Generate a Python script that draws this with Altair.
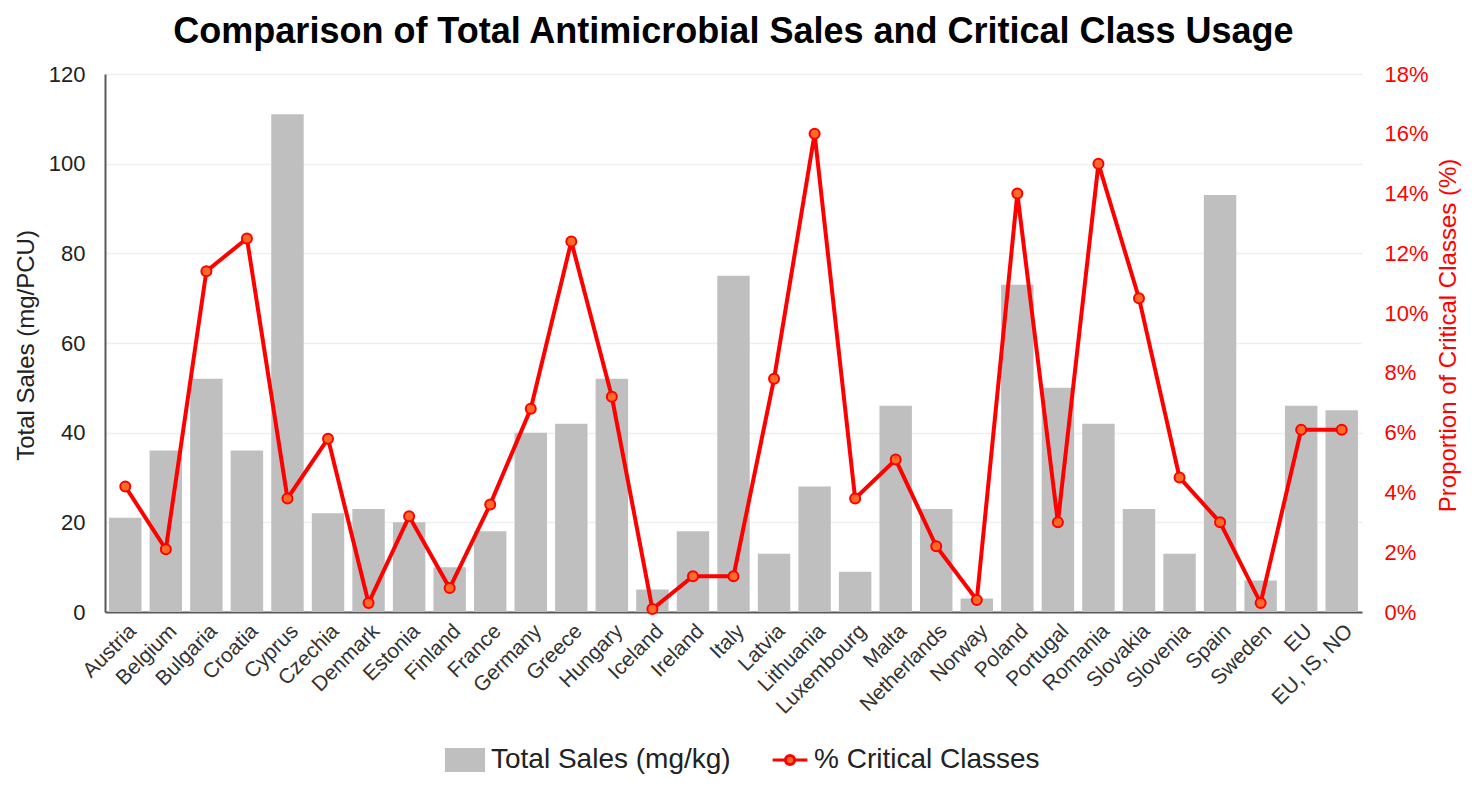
import altair as alt
import pandas as pd

countries = ["Austria", "Belgium", "Bulgaria", "Croatia", "Cyprus", "Czechia", "Denmark",
             "Estonia", "Finland", "France", "Germany", "Greece", "Hungary", "Iceland",
             "Ireland", "Italy", "Latvia", "Lithuania", "Luxembourg", "Malta", "Netherlands",
             "Norway", "Poland", "Portugal", "Romania", "Slovakia", "Slovenia", "Spain",
             "Sweden", "EU", "EU, IS, NO"]
total_sales = [21, 36, 52, 36, 111, 22, 23, 20, 10, 18, 40, 42, 52, 5, 18, 75, 13, 28, 9, 46,
               23, 3, 73, 50, 42, 23, 13, 93, 7, 46, 45]
critical_pct = [4.2, 2.1, 11.4, 12.5, 3.8, 5.8, 0.3, 3.2, 0.8, 3.6, 6.8, 12.4, 7.2, 0.1, 1.2,
                1.2, 7.8, 16.0, 3.8, 5.1, 2.2, 0.4, 14.0, 3.0, 15.0, 10.5, 4.5, 3.0, 0.3, 6.1, 6.1]
left_ticks = [0, 20, 40, 60, 80, 100, 120]
right_ticks = [0, 2, 4, 6, 8, 10, 12, 14, 16, 18]

df = pd.DataFrame({"country": countries, "sales": total_sales, "crit": critical_pct})

FONT = "Liberation Sans"
RED = "#FF0000"
ORANGE = "#FF6A26"
GRAY = "#BFBFBF"

x = alt.X("country:N", sort=countries,
          scale=alt.Scale(paddingInner=0.2, paddingOuter=0.1),
          axis=alt.Axis(title=None, labelAngle=-45, labelFontSize=21, labelColor="#333333",
                        labelFont=FONT, ticks=False, domain=True, domainColor="#595959",
                        domainWidth=2, labelPadding=8, grid=False))

bars = alt.Chart(df).transform_calculate(series="'Total Sales (mg/kg)'").mark_bar(
    color=GRAY
).encode(
    x=x,
    y=alt.Y("sales:Q",
            scale=alt.Scale(domain=[0, 120], nice=False),
            axis=alt.Axis(values=left_ticks, grid=True, gridColor="#EFEFEF", gridWidth=1.5,
                          domain=True, domainColor="#595959", domainWidth=2, ticks=False,
                          labelPadding=20, labelFontSize=22, labelColor="#222222",
                          labelFont=FONT, title="Total Sales (mg/PCU)", titleFontSize=24,
                          titleFont=FONT, titleFontWeight="normal", titleColor="#222222",
                          titleAngle=270, titleBaseline="middle", titleX=-79, titleY=271)),
    color=alt.Color("series:N", scale=alt.Scale(range=[GRAY]),
                    legend=alt.Legend(orient="none", legendX=346, legendY=672, title=None,
                                      symbolType="M-1.67,-1H1.67V1H-1.67Z", symbolSize=576,
                                      symbolStrokeWidth=0, labelFontSize=28, labelFont=FONT,
                                      labelColor="#222222", labelOffset=12, padding=0,
                                      labelLimit=500)),
)

line = alt.Chart(df).transform_calculate(series="'% Critical Classes'").mark_line(
    strokeWidth=4
).encode(
    x=x,
    y=alt.Y("crit:Q",
            scale=alt.Scale(domain=[0, 18], nice=False),
            axis=alt.Axis(orient="right", values=right_ticks, grid=False, domain=False,
                          ticks=False, labelPadding=22, labelFontSize=22, labelColor=RED,
                          labelFont=FONT, labelExpr="datum.value + '%'",
                          title="Proportion of Critical Classes (%)", titleFontSize=24,
                          titleFont=FONT, titleFontWeight="normal", titleColor=RED,
                          titleAngle=270, titleBaseline="middle", titleX=86, titleY=261)),
    color=alt.Color("series:N", scale=alt.Scale(range=[RED]),
                    legend=alt.Legend(orient="none", legendX=671, legendY=672, title=None,
                                      symbolType="M-1.45,0H-0.38M0.38,0H1.45M0.38,0A0.38,0.38,0,1,1,-0.38,0A0.38,0.38,0,1,1,0.38,0",
                                      symbolSize=576, symbolStrokeWidth=3,
                                      symbolFillColor=ORANGE, symbolStrokeColor=RED,
                                      labelFontSize=28, labelFont=FONT,
                                      labelColor="#222222", labelOffset=10, padding=0,
                                      labelLimit=500)),
)

points = alt.Chart(df).mark_point(
    filled=True, fill=ORANGE, stroke=RED, strokeWidth=2, size=100, opacity=1, shape="circle"
).encode(
    x=x,
    y=alt.Y("crit:Q", scale=alt.Scale(domain=[0, 18], nice=False)),
)

chart = alt.layer(
    bars, alt.layer(line, points)
).resolve_scale(
    y="independent", color="independent"
).properties(
    width=1257, height=538,
    padding={"left": 97, "top": 66, "right": 106, "bottom": 169},
    autosize=alt.AutoSizeParams(type="none"),
    title=alt.TitleParams(
        "Comparison of Total Antimicrobial Sales and Critical Class Usage",
        fontSize=36, font=FONT, fontWeight="bold", color="#000000",
        anchor="middle", frame="group", baseline="alphabetic", offset=0, dy=16),
).configure_view(stroke=None)

chart.save("out.html", embed_options={"renderer": "svg", "actions": False})
